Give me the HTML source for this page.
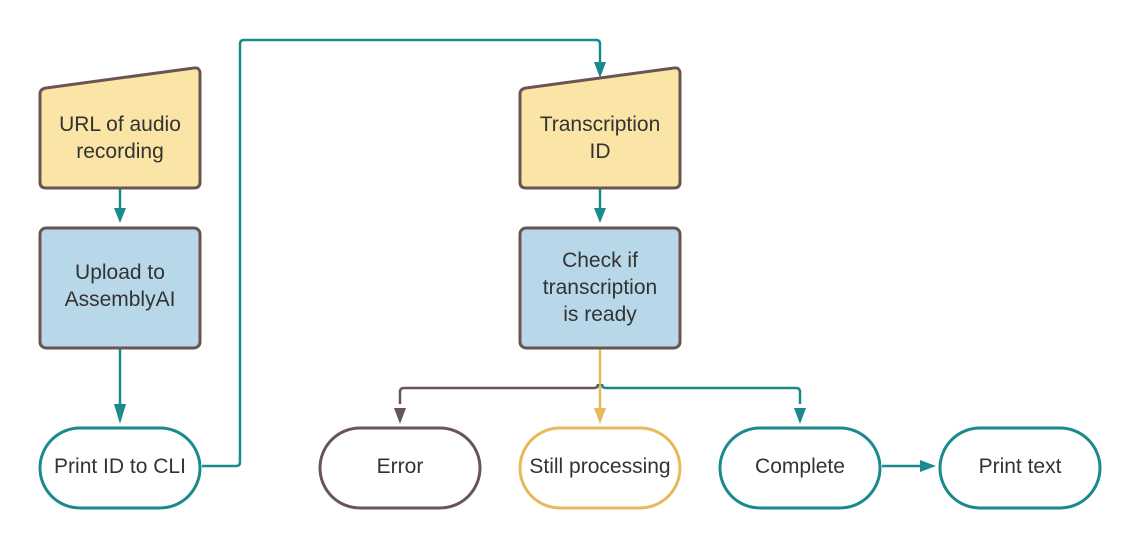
<!DOCTYPE html>
<html><head><meta charset="utf-8"><style>
html,body{margin:0;padding:0;background:#fff;}
svg{display:block;}
text{font-family:"Liberation Sans",sans-serif;font-size:21px;fill:#333;text-anchor:middle;}
</style></head><body>
<svg width="1140" height="548" viewBox="0 0 1140 548">
<g fill="none" stroke-width="2.5">
<path d="M120 189 V214" stroke="#1a8a8c"/>
<path d="M120 349 V414" stroke="#1a8a8c"/>
<path d="M202 466 H236 Q240 466 240 462 V44 Q240 40 244 40 H596 Q600 40 600 44 V64" stroke="#1a8a8c"/>
<path d="M600 189 V214" stroke="#1a8a8c"/>
<path d="M600 349 V414" stroke="#e8b85c"/>
<path d="M598 384 Q598 388 594 388 H404 Q400 388 400 392 V404" stroke="#6b5454"/>
<path d="M602 384 Q602 388 606 388 H796 Q800 388 800 392 V404" stroke="#1a8a8c"/>
<path d="M882 466 H926" stroke="#1a8a8c"/>
</g>
<g>
<polygon points="114,208 126,208 120,223" fill="#1a8a8c"/>
<polygon points="114,404 126,404 120,424" fill="#1a8a8c"/>
<polygon points="594,62 606,62 600,78" fill="#1a8a8c"/>
<polygon points="594,208 606,208 600,223" fill="#1a8a8c"/>
<polygon points="594,408 606,408 600,424" fill="#e8b85c"/>
<polygon points="394,408 406,408 400,424" fill="#6b5454"/>
<polygon points="794,408 806,408 800,424" fill="#1a8a8c"/>
<polygon points="920,460 920,472 936,466" fill="#1a8a8c"/>
</g>
<g fill="#fbe5a6" stroke="#6b5454" stroke-width="3">
<path d="M46 88 L194 68 Q200 67 200 74 V182 Q200 188 194 188 H46 Q40 188 40 182 V94 Q40 89 46 88 Z"/>
<path d="M526 88 L674 68 Q680 67 680 74 V182 Q680 188 674 188 H526 Q520 188 520 182 V94 Q520 89 526 88 Z"/>
</g>
<g fill="#b8d8ea" stroke="#6b5454" stroke-width="3">
<rect x="40" y="228" width="160" height="120" rx="6"/>
<rect x="520" y="228" width="160" height="120" rx="6"/>
</g>
<g fill="#fff" stroke-width="3">
<rect x="40" y="428" width="160" height="80" rx="40" stroke="#1a8a8c"/>
<rect x="320" y="428" width="160" height="80" rx="40" stroke="#6b5454"/>
<rect x="520" y="428" width="160" height="80" rx="40" stroke="#e8b85c"/>
<rect x="720" y="428" width="160" height="80" rx="40" stroke="#1a8a8c"/>
<rect x="940" y="428" width="160" height="80" rx="40" stroke="#1a8a8c"/>
</g>
<text x="120" y="131">URL of audio</text>
<text x="120" y="158">recording</text>
<text x="600" y="131">Transcription</text>
<text x="600" y="158">ID</text>
<text x="120" y="279">Upload to</text>
<text x="120" y="306">AssemblyAI</text>
<text x="600" y="267">Check if</text>
<text x="600" y="294">transcription</text>
<text x="600" y="321">is ready</text>
<text x="120" y="473">Print ID to CLI</text>
<text x="400" y="473">Error</text>
<text x="600" y="473">Still processing</text>
<text x="800" y="473">Complete</text>
<text x="1020" y="473">Print text</text>
</svg>
</body></html>
